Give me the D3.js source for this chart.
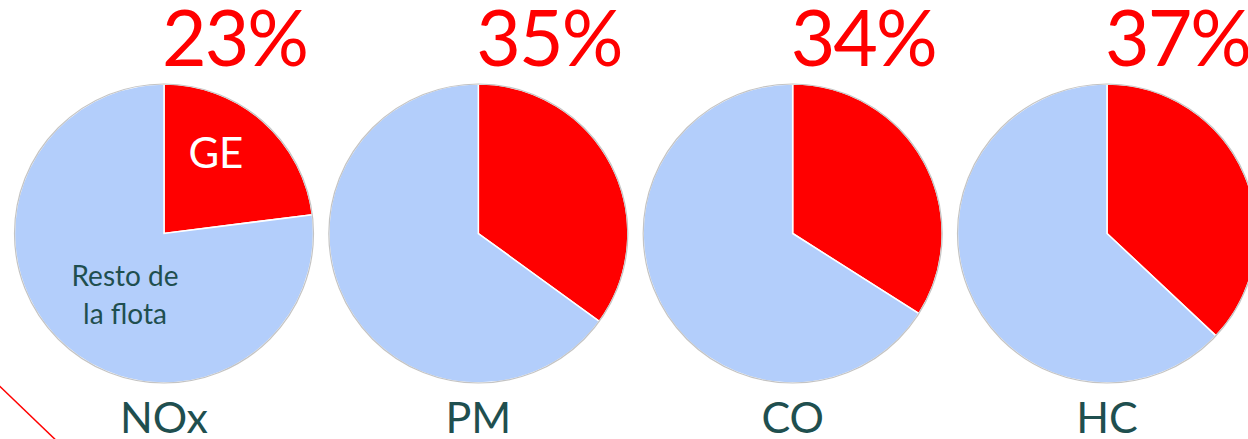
<!DOCTYPE html>
<html lang="es">
<head>
<meta charset="UTF-8">
<title>GE vs resto de la flota</title>
<script src="https://d3js.org/d3.v7.min.js"></script>
<style>
  html, body { margin: 0; padding: 0; background: #fff; }
  svg { display: block; font-family: Lato, "Open Sans", sans-serif; }
</style>
</head>
<body>
<svg id="main" width="1248" height="439"></svg>
<script>
// data
const pollutants = ['NOx', 'PM', 'CO', 'HC'];
const geShare = [23, 35, 34, 37];          // % emitted by GE
const sliceNames = ['GE', 'Resto de la flota'];

const colors = { ge: '#ff0000', rest: '#b3cefb', text: '#1f4f4f' };

const svg = d3.select('svg#main');

// diagonal red line in the corner
svg.append('line')
    .attr('x1', -10).attr('y1', 377)
    .attr('x2', 62).attr('y2', 446)
    .attr('stroke', '#ff0000').attr('stroke-width', 1.5);

const x = d3.scalePoint().domain(pollutants).range([164, 1107]);
const cy = 233.5, r = 149.5;

const pie = d3.pie().sort(null).value(d => d.v);
const arc = d3.arc().innerRadius(0).outerRadius(r);

const rows = pollutants.map((p, i) => ({
    name: p,
    pct: geShare[i],
    slices: pie([{ k: sliceNames[0], v: geShare[i] }, { k: sliceNames[1], v: 100 - geShare[i] }])
}));

const g = svg.selectAll('g.pie')
    .data(rows)
    .enter()
    .append('g')
    .attr('class', 'pie')
    .attr('transform', d => `translate(${x(d.name)},${cy})`);

g.selectAll('path')
    .data(d => d.slices)
    .enter()
    .append('path')
    .attr('d', arc)
    .attr('fill', (d, i) => i === 0 ? colors.ge : colors.rest)
    .attr('stroke', '#fff')
    .attr('stroke-width', 1.5);

g.append('circle')
    .attr('r', r)
    .attr('fill', 'none')
    .attr('stroke', '#c4c4c4')
    .attr('stroke-width', 1.2);

// big percentages
g.append('text')
    .attr('x', -2)
    .attr('y', 66 - cy)
    .attr('fill', colors.ge)
    .style('font-size', '77px')
    .style('letter-spacing', '-2px')
    .text(d => d.pct + '%');

// pollutant names
g.append('text')
    .attr('x', 0)
    .attr('y', 433 - cy)
    .attr('text-anchor', 'middle')
    .attr('fill', colors.text)
    .style('font-size', '43px')
    .text(d => d.name);

// slice labels on the first pie only
const first = g.filter((d, i) => i === 0);
const labelArc = d3.arc().innerRadius(80).outerRadius(80);

first.append('text')
    .attr('transform', d => {
        const c = labelArc.centroid(d.slices[0]);
        return `translate(${c[0] - 1},${c[1] - 5})`;
    })
    .attr('text-anchor', 'middle')
    .attr('fill', '#fff')
    .style('font-size', '42px')
    .text(sliceNames[0]);

const restText = first.append('text')
    .attr('transform', d => {
        const c = d3.arc().innerRadius(59).outerRadius(59).centroid(d.slices[1]);
        return `translate(${c[0]},${c[1] + 8})`;
    })
    .attr('text-anchor', 'middle')
    .attr('fill', colors.text)
    .style('font-size', '28px');
restText.append('tspan').attr('x', 0).attr('dy', 0).text('Resto de');
restText.append('tspan').attr('x', 0).attr('dy', 38).text('la flota');
</script>
</body>
</html>
